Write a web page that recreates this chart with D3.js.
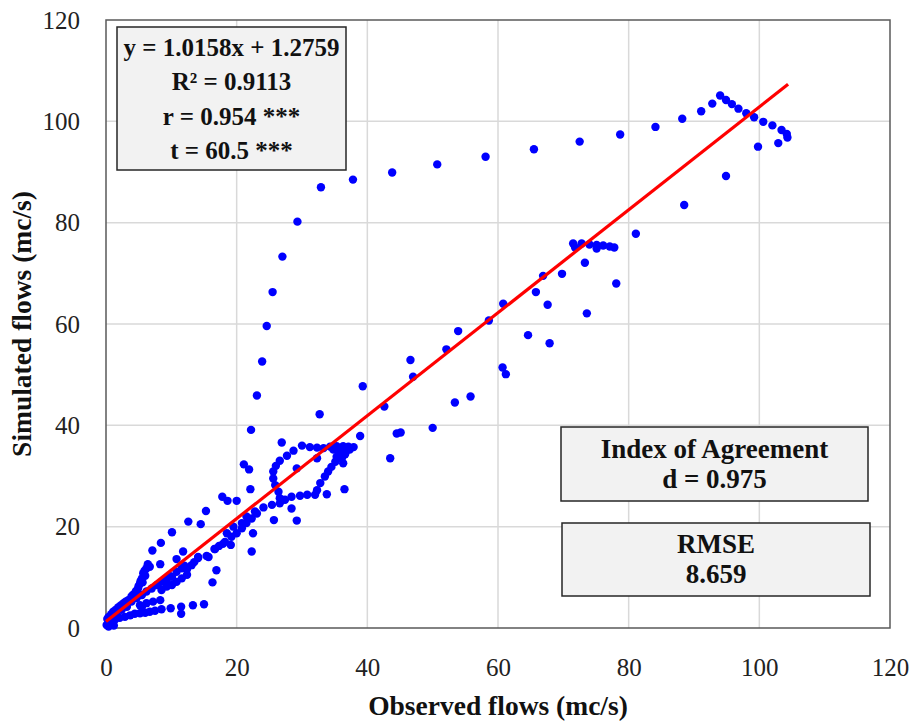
<!DOCTYPE html>
<html>
<head>
<meta charset="utf-8">
<script src="https://cdn.jsdelivr.net/npm/d3@7"></script>
<style>
    body { margin: 0; background: #fff; }
</style>
</head>
<body>
<div id="chart"></div>
<script>
'use strict';

// Observed vs simulated flows (mc/s)
const observed = [
    // rising branch and top arc
    23.1, 23.9, 24.6, 25.5, 27.0, 29.3, 32.9, 37.8, 43.8, 50.7, 58.1, 65.5, 72.5, 78.7, 84.1, 88.2,
    91.1, 92.8, 94.0, 94.9, 95.8, 96.8, 98.0, 99.2, 100.6, 102.0, 103.4, 104.2, 104.3, 102.9, 99.8,
    94.9, 88.5, 81.1,
    // cluster near 75
    71.5, 72.8, 74.0, 75.1, 76.1, 77.1, 77.8, 71.8, 75.1, 73.3, 78.1,
    // middle
    69.8, 66.9, 65.8, 67.6, 73.6, 60.8, 58.6, 53.9, 52.1, 64.6, 67.9, 60.7, 61.2, 55.8, 53.4, 50.0,
    45.1, 43.5, 42.6, 47.0, 46.6, 39.3, 44.5, 32.7, 38.9, 22.2,
    // loop
    26.9, 30.0, 31.2, 32.3, 33.3, 34.3, 35.3, 36.3, 37.1, 37.9, 28.7, 27.7, 26.6, 26.0, 25.6, 25.6,
    25.9, 26.4, 26.6, 27.4, 28.4, 29.7, 30.8, 32.0, 32.3, 32.8, 33.5, 34.0, 34.5, 35.1, 35.3, 35.8,
    36.1, 36.3, 35.6, 32.3, 29.2, 33.8, 36.5, 28.4, 29.2, 25.7, 22.1, 21.1, 21.9, 36.8, 37.3, 36.6, 34.8,
    // lower left
    17.8, 18.6, 20.0, 24.1, 25.4, 22.8, 21.5, 20.8, 19.5, 22.5, 18.5, 22.3, 15.3, 12.6, 14.5, 10.1,
    8.4, 7.1, 6.4, 8.3, 10.8, 11.8, 14.1, 15.7, 16.6, 17.9, 19.1, 16.9, 16.3, 26.6,
    // flat lower band
    15.0, 13.3, 11.5, 11.5, 9.9, 8.5, 7.5, 6.7, 6.0, 5.2, 5.5, 4.4, 3.7, 2.9, 2.1, 1.4, 0.6, 0.1, 0.4,
    // steep band
    5.7, 5.5, 5.2, 4.9, 4.4, 3.9, 3.4, 2.7, 1.9, 1.1, 0.4, 0.2, 6.2, 6.7, 5.9, 5.3, 5.0, 4.6, 4.1,
    3.0, 2.3, 1.5, 0.8, 6.0, 5.6,
    // band along the fit
    7.8, 8.5, 9.3, 10.1, 10.8, 11.6, 12.4, 13.1, 14.1, 15.4, 16.7, 18.2, 19.2, 20.0, 20.8, 21.5,
    22.3, 23.1, 7.0, 6.2, 5.5, 4.7, 3.9, 3.2, 2.4, 1.6, 0.9, 8.5, 9.3, 10.1, 10.8, 11.6, 12.4, 8.3,
    6.2, 7.2, 5.2, 13.5, 12.0, 9.7, 17.3, 0.3, 0.7, 1.2
];

const simulated = [
    45.9, 52.6, 59.6, 66.3, 73.3, 80.2, 87.0, 88.5, 89.9, 91.5, 93.0, 94.5, 96.0, 97.4, 98.9, 100.5,
    102.0, 103.5, 105.1, 104.2, 103.4, 102.5, 101.6, 100.8, 99.9, 99.2, 98.3, 97.5, 96.8, 95.7, 95.0,
    89.2, 83.5, 77.8,
    75.9, 75.9, 75.7, 75.6, 75.5, 75.3, 75.1, 75.1, 74.9, 72.1, 68.0,
    69.9, 69.5, 66.3, 63.8, 62.1, 64.0, 60.7, 58.6, 55.0, 57.8, 56.2, 51.4, 50.1, 45.7, 44.5, 39.5,
    38.6, 33.5, 43.7, 49.6, 52.9, 47.7, 38.4, 42.2, 37.9, 39.1,
    36.6, 36.0, 35.7, 35.6, 35.5, 35.8, 35.9, 35.9, 35.8, 35.7, 35.0, 34.0, 33.0, 32.0, 30.9, 29.5,
    28.2, 26.9, 25.6, 25.3, 25.9, 26.1, 26.3, 26.3, 27.2, 28.6, 29.9, 30.9, 31.8, 32.8, 33.8, 34.5,
    33.5, 32.5, 35.1, 33.5, 31.5, 26.4, 27.4, 23.6, 21.2, 21.3, 27.4, 32.3, 31.3, 35.0, 35.2, 34.3, 35.2,
    25.9, 25.1, 25.1, 23.8, 24.3, 23.0, 22.0, 20.7, 20.0, 18.7, 18.7, 15.1, 23.1, 21.0, 20.5, 18.9,
    16.8, 15.3, 12.6, 12.6, 13.6, 15.1, 14.0, 14.0, 15.6, 16.6, 16.4, 11.4, 9.0, 24.6,
    4.7, 4.5, 4.2, 2.8, 3.9, 3.7, 3.4, 3.2, 3.0, 2.9, 4.2, 2.8, 2.5, 2.2, 2.0, 1.7, 1.2, 0.6, 0.3,
    10.8, 9.8, 8.8, 7.8, 6.8, 6.2, 5.5, 4.9, 4.1, 3.2, 2.2, 1.8, 11.8, 12.1, 11.3, 9.3, 8.3, 7.3, 6.5,
    5.2, 4.5, 3.6, 2.7, 10.3, 9.0,
    8.5, 9.1, 9.5, 10.1, 11.1, 11.8, 11.6, 12.4, 13.8, 14.2, 15.6, 17.0, 18.0, 18.7, 19.7, 20.7,
    21.6, 22.6, 7.8, 7.2, 6.5, 5.9, 5.2, 4.2, 3.6, 2.9, 1.9, 7.5, 8.2, 8.5, 9.1, 9.8, 10.5, 5.5,
    4.9, 5.2, 4.5, 13.0, 12.3, 10.3, 16.2, 0.9, 1.3, 0.5
];

const xTicks = [0, 20, 40, 60, 80, 100, 120];
const yTicks = [0, 20, 40, 60, 80, 100, 120];

// Linear fit reported on the chart
const fitSlope = 1.0158, fitIntercept = 1.2759;
const fitRange = [0, 104.4];

const statLines = ['y = 1.0158x + 1.2759', 'R² = 0.9113', 'r = 0.954 ***', 't = 60.5 ***'];
const agreementLines = ['Index of Agreement', 'd = 0.975'];
const rmseLines = ['RMSE', '8.659'];

const xTitle = 'Observed flows (mc/s)';
const yTitle = 'Simulated flows (mc/s)';

// Layout
const width = 916, height = 722;
const margin = { top: 20, right: 26, bottom: 94, left: 106 };
const plotW = width - margin.left - margin.right;
const plotH = height - margin.top - margin.bottom;
const serif = "'Liberation Serif', 'DejaVu Serif', serif";

let points = observed.map((o, i) => ({ x: o, y: simulated[i] }));

let svg = d3.select('#chart').append('svg')
    .attr('width', width).attr('height', height);

let chart = svg.append('g').attr('transform', `translate(${margin.left},${margin.top})`);

let x = d3.scaleLinear().domain([0, 120]).range([0, plotW]);
let y = d3.scaleLinear().domain([0, 120]).range([plotH, 0]);

// Gridlines
chart.append('g')
    .selectAll('line.vgrid')
    .data(xTicks.slice(1, -1))
    .join('line')
    .attr('x1', d => x(d)).attr('x2', d => x(d))
    .attr('y1', 0).attr('y2', plotH)
    .attr('stroke', '#d9d9d9').attr('stroke-width', 1.5);

chart.append('g')
    .selectAll('line.hgrid')
    .data(yTicks.slice(1, -1))
    .join('line')
    .attr('x1', 0).attr('x2', plotW)
    .attr('y1', d => y(d)).attr('y2', d => y(d))
    .attr('stroke', '#d9d9d9').attr('stroke-width', 1.5);

// Axes (labels only, frame drawn separately)
let xAxis = chart.append('g')
    .attr('transform', `translate(0,${plotH})`)
    .call(d3.axisBottom(x).tickValues(xTicks).tickSize(0).tickPadding(30));

let yAxis = chart.append('g')
    .call(d3.axisLeft(y).tickValues(yTicks).tickSize(0).tickPadding(26));

[xAxis, yAxis].forEach(a => {
    a.select('.domain').remove();
    a.selectAll('text')
        .style('font-family', serif)
        .attr('font-size', 25).attr('fill', '#222');
});

// Plot frame
chart.append('rect')
    .attr('width', plotW).attr('height', plotH)
    .attr('fill', 'none').attr('stroke', '#595959').attr('stroke-width', 1.5);

// Points
chart.selectAll('circle.pt')
    .data(points)
    .join('circle')
    .classed('pt', true)
    .attr('cx', d => x(d.x))
    .attr('cy', d => y(d.y))
    .attr('r', 4.2)
    .attr('fill', '#0000ff');

// Fit line
let line = d3.line().x(d => x(d)).y(d => y(fitSlope * d + fitIntercept));
chart.append('path')
    .datum(fitRange)
    .attr('d', line)
    .attr('fill', 'none')
    .attr('stroke', '#ff0000')
    .attr('stroke-width', 3.2);

// Text boxes
function textBox(lines, box, baselines, size) {
    let g = svg.append('g');
    g.append('rect')
        .attr('x', box[0]).attr('y', box[1])
        .attr('width', box[2]).attr('height', box[3])
        .attr('fill', '#f2f2f2').attr('stroke', '#262626').attr('stroke-width', 1.5);
    g.selectAll('text')
        .data(lines)
        .join('text')
        .attr('x', box[0] + box[2] / 2)
        .attr('y', (d, i) => baselines[i])
        .attr('text-anchor', 'middle')
        .style('font-family', serif)
        .attr('font-size', size)
        .attr('font-weight', 'bold')
        .attr('fill', '#111')
        .text(d => d);
}

textBox(statLines, [117, 27, 229, 143], [56, 90, 125, 159], 25);
textBox(agreementLines, [561, 427, 307, 74], [458, 488], 27);
textBox(rmseLines, [562, 523, 308, 73], [553, 583], 27);

// Axis titles
svg.append('text')
    .attr('x', margin.left + plotW / 2).attr('y', 715)
    .attr('text-anchor', 'middle')
    .style('font-family', serif)
    .attr('font-size', 27.5).attr('font-weight', 'bold').attr('fill', '#111')
    .text(xTitle);

svg.append('text')
    .attr('transform', `translate(31,${margin.top + plotH / 2}) rotate(-90)`)
    .attr('text-anchor', 'middle')
    .style('font-family', serif)
    .attr('font-size', 27.5).attr('font-weight', 'bold').attr('fill', '#111')
    .text(yTitle);
</script>
</body>
</html>
